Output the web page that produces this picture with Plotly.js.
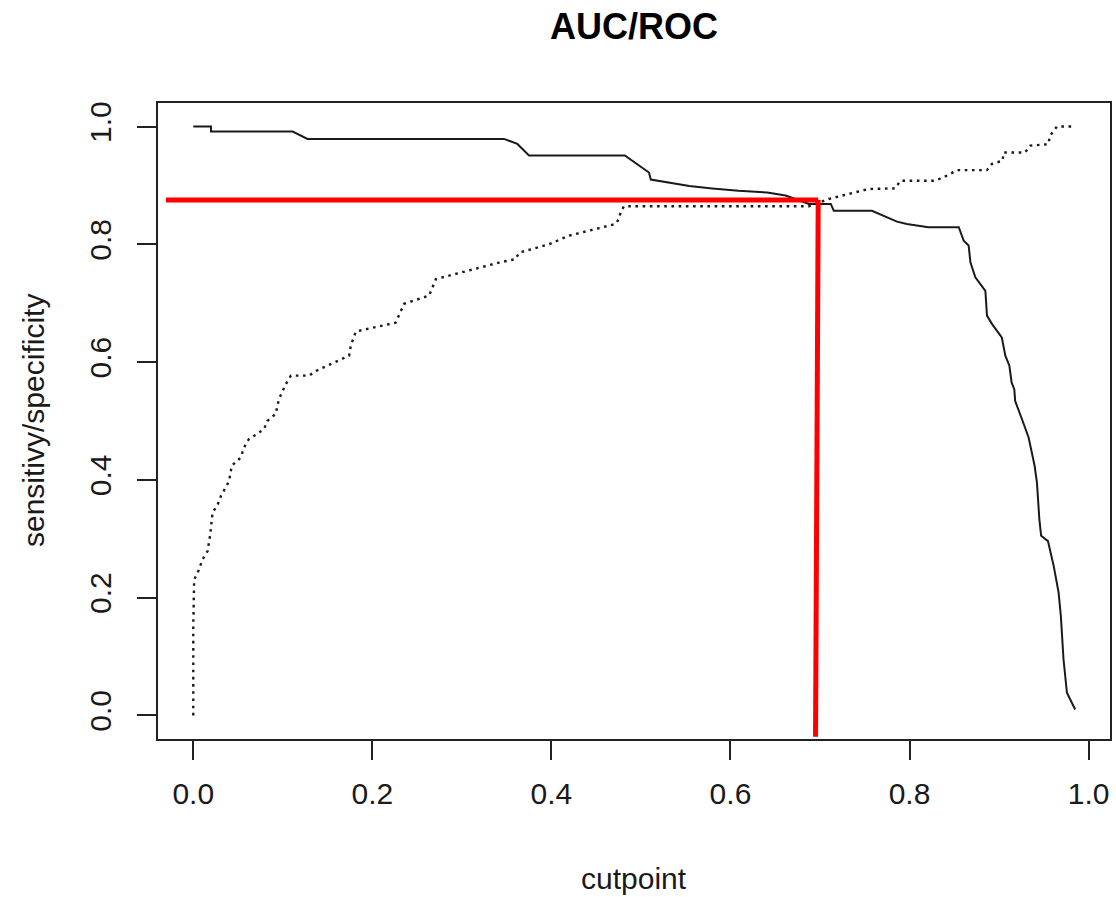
<!DOCTYPE html>
<html>
<head>
<meta charset="utf-8">
<script src="https://cdn.plot.ly/plotly-3.0.1.min.js"></script>
<style>html,body{margin:0;padding:0;background:#fff;}#chart{width:1116px;height:897px;}</style>
</head>
<body>
<div id="chart"></div>
<script>
// Solid curve (decreasing with cutpoint)
const sensCut = [0, 0.0198, 0.0198, 0.111, 0.1276, 0.347, 0.362, 0.3675, 0.375, 0.482, 0.509, 0.511, 0.537, 0.554, 0.5796, 0.609, 0.641, 0.6615, 0.6726, 0.6875, 0.712, 0.7154, 0.758, 0.786, 0.797, 0.821, 0.855, 0.8605, 0.866, 0.868, 0.8735, 0.8847, 0.8865, 0.892, 0.903, 0.907, 0.9115, 0.914, 0.917, 0.918, 0.9256, 0.933, 0.9397, 0.9423, 0.945, 0.947, 0.9546, 0.961, 0.9665, 0.969, 0.972, 0.9758, 0.985];
const sensVal = [1.0, 1.0, 0.9915, 0.9915, 0.979, 0.979, 0.9705, 0.962, 0.951, 0.951, 0.922, 0.910, 0.9026, 0.899, 0.895, 0.891, 0.888, 0.883, 0.877, 0.8686, 0.8686, 0.857, 0.857, 0.8386, 0.8346, 0.829, 0.829, 0.806, 0.798, 0.7695, 0.744, 0.721, 0.679, 0.665, 0.642, 0.611, 0.594, 0.5655, 0.554, 0.534, 0.503, 0.472, 0.424, 0.3955, 0.333, 0.305, 0.296, 0.254, 0.2085, 0.169, 0.095, 0.0385, 0.010];

// Dotted curve (increasing with cutpoint)
const specCut = [0, 0, 0.001, 0.005, 0.0104, 0.016, 0.019, 0.0215, 0.027, 0.031, 0.040, 0.043, 0.053, 0.0567, 0.062, 0.079, 0.0826, 0.092, 0.0956, 0.101, 0.1035, 0.109, 0.1295, 0.137, 0.174, 0.176, 0.1816, 0.226, 0.2355, 0.2634, 0.271, 0.3415, 0.360, 0.364, 0.397, 0.4196, 0.442, 0.4717, 0.4754, 0.4773, 0.481, 0.6875, 0.695, 0.7098, 0.732, 0.7545, 0.784, 0.7898, 0.829, 0.8437, 0.853, 0.8865, 0.892, 0.904, 0.905, 0.929, 0.935, 0.955, 0.957, 0.9646, 0.985];
const specVal = [0, 0.152, 0.231, 0.2425, 0.265, 0.279, 0.308, 0.3445, 0.357, 0.373, 0.398, 0.424, 0.438, 0.455, 0.469, 0.486, 0.500, 0.512, 0.537, 0.554, 0.563, 0.577, 0.577, 0.585, 0.611, 0.628, 0.652, 0.667, 0.699, 0.713, 0.741, 0.769, 0.775, 0.786, 0.800, 0.8147, 0.823, 0.8346, 0.843, 0.8544, 0.8646, 0.8646, 0.8686, 0.877, 0.8856, 0.894, 0.895, 0.908, 0.908, 0.918, 0.926, 0.926, 0.9366, 0.942, 0.956, 0.956, 0.9677, 0.970, 0.9847, 1.0, 1.0];

// Red guide lines (optimal cutpoint)
const redHCut = [-0.0305, 0.698];
const redHVal = [0.8754, 0.8754];
const redVCut = [0.698, 0.695];
const redVVal = [0.8754, -0.036];

const tickVals = [0, 0.2, 0.4, 0.6, 0.8, 1.0];
const tickText = ['0.0', '0.2', '0.4', '0.6', '0.8', '1.0'];

const FONT = 'Liberation Sans, Arial, Helvetica, sans-serif';
const INK = '#1a1a1a';

const traces = [
  {x: sensCut, y: sensVal, type: 'scatter', mode: 'lines', line: {color: INK, width: 2}, hoverinfo: 'skip'},
  {x: specCut, y: specVal, type: 'scatter', mode: 'lines', line: {color: INK, width: 2.4, dash: '2.6px,4.6px'}, hoverinfo: 'skip'},
  {x: redHCut, y: redHVal, type: 'scatter', mode: 'lines', line: {color: '#ff0000', width: 5}, hoverinfo: 'skip'},
  {x: redVCut, y: redVVal, type: 'scatter', mode: 'lines', line: {color: '#ff0000', width: 5}, hoverinfo: 'skip'}
];

const layout = {
  width: 1116, height: 897,
  margin: {l: 158, r: 6, t: 103, b: 158, pad: 0},
  paper_bgcolor: '#fff', plot_bgcolor: '#fff',
  showlegend: false,
  font: {family: FONT, color: INK, size: 30},
  title: {text: '<b>AUC/ROC</b>', font: {family: FONT, size: 36, color: '#000'}, x: 0.5, xref: 'paper', xanchor: 'center', y: 0.971, yref: 'container', yanchor: 'middle'},
  xaxis: {
    range: [-0.0394, 1.0239], showgrid: false, zeroline: false,
    showline: true, mirror: true, linecolor: '#222', linewidth: 2,
    ticks: 'outside', ticklen: 19, tickwidth: 2, tickcolor: '#222',
    tickvals: tickVals, ticktext: tickText, tickfont: {family: FONT, size: 30, color: INK},
    ticklabelstandoff: 8
  },
  yaxis: {
    range: [-0.04, 1.04], showgrid: false, zeroline: false,
    showline: true, mirror: true, linecolor: '#222', linewidth: 2,
    ticks: 'outside', ticklen: 19, tickwidth: 2, tickcolor: '#222',
    tickvals: tickVals, ticktext: tickText, tickangle: -90, tickfont: {family: FONT, size: 30, color: INK},
    ticklabelstandoff: 14
  },
  annotations: [
    {text: 'cutpoint', xref: 'paper', yref: 'paper', x: 0.5, y: -0.2186, xanchor: 'center', yanchor: 'middle', showarrow: false, font: {family: FONT, size: 30, color: INK}},
    {text: 'sensitivy/specificity', xref: 'paper', yref: 'paper', x: -0.1313, y: 0.5, xanchor: 'center', yanchor: 'middle', textangle: -90, showarrow: false, font: {family: FONT, size: 30, color: INK}}
  ]
};

Plotly.newPlot('chart', traces, layout, {displayModeBar: false, staticPlot: true});
</script>
</body>
</html>
